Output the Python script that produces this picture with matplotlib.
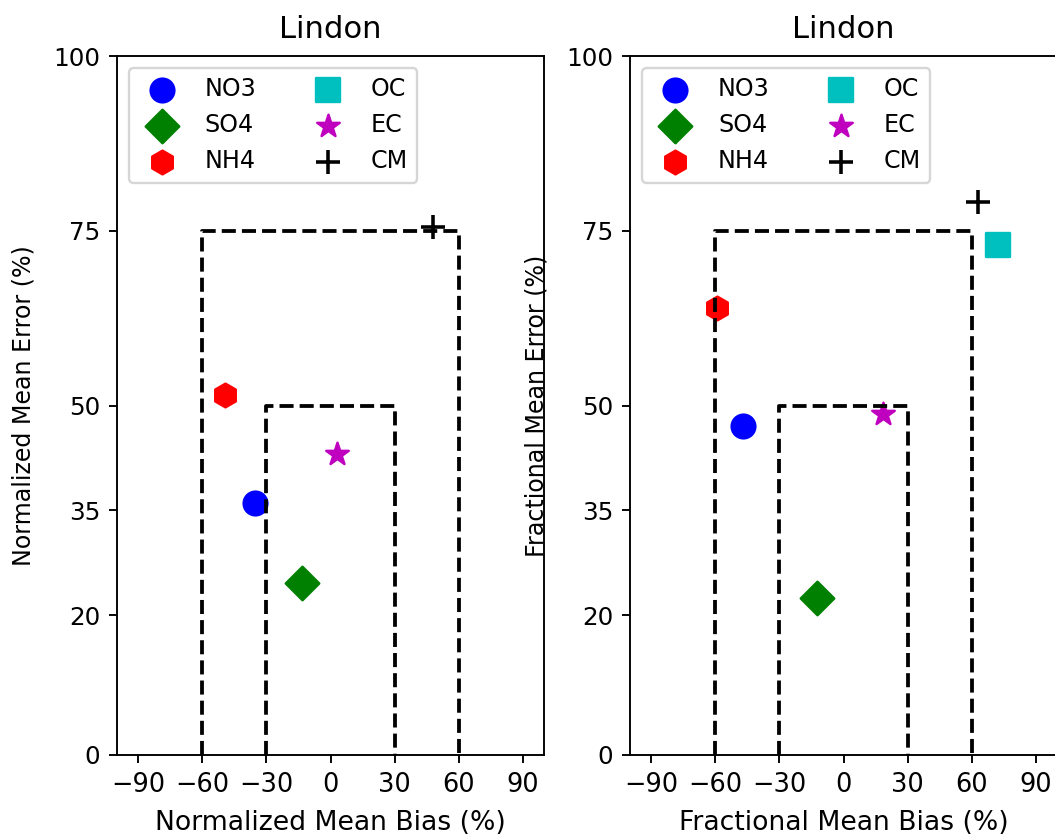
import numpy as np
import matplotlib
matplotlib.use('Agg')
import matplotlib.pyplot as plt

# species and how they are drawn
species = ['NO3', 'SO4', 'NH4', 'OC', 'EC', 'CM']
markers = ['o', 'D', 'h', 's', '*', '+']
colors = ['b', 'g', 'r', 'c', 'm', 'k']

# normalized mean bias / error (%), OC falls outside the plotted range
nmb = [-35.4, -13.3, -49.4, np.nan, 3.0, 48.0]
nme = [36.0, 24.6, 51.5, np.nan, 43.1, 75.6]

# fractional mean bias / error (%)
fmb = [-47.1, -12.4, -59.3, 72.4, 18.5, 63.0]
fme = [47.1, 22.5, 64.0, 73.0, 48.8, 79.1]

# performance goal / criteria boxes (bias half-width, error)
goal = [30, 50]
criteria = [60, 75]

xticks = [-90, -60, -30, 0, 30, 60, 90]
yticks = [0, 20, 35, 50, 75, 100]

dpi = 171
fig = plt.figure(figsize=(1055 / dpi, 839 / dpi), dpi=dpi)
ax1 = fig.add_axes([117 / 1055, 1 - 755 / 839, 427 / 1055, 699 / 839])
ax2 = fig.add_axes([630 / 1055, 1 - 755 / 839, 427 / 1055, 699 / 839])


def draw(ax, bias, err, xlabel, ylabel):
    for i in range(len(species)):
        ax.scatter(bias[i], err[i], marker=markers[i], c=colors[i], s=100, label=species[i])
    for b, e in [criteria, goal]:
        ax.plot([-b, -b, b, b], [0, e, e, 0], 'k--', lw=1.6)
    ax.set_xlim(-100, 100)
    ax.set_ylim(0, 100)
    ax.set_xticks(xticks)
    ax.set_yticks(yticks)
    ax.tick_params(axis='x', labelsize=10.8)
    ax.tick_params(axis='y', labelsize=10.4)
    ax.set_xlabel(xlabel, fontsize=11.2, labelpad=5)
    ax.set_ylabel(ylabel, labelpad=7.5)
    ax.set_title('Lindon', fontsize=12.9, pad=7.5)
    ax.legend(loc='upper left', ncol=2)


draw(ax1, nmb, nme, 'Normalized Mean Bias (%)', 'Normalized Mean Error (%)')
draw(ax2, fmb, fme, 'Fractional Mean Bias (%)', 'Fractional Mean Error (%)')

fig.savefig('out.png', dpi=dpi)
